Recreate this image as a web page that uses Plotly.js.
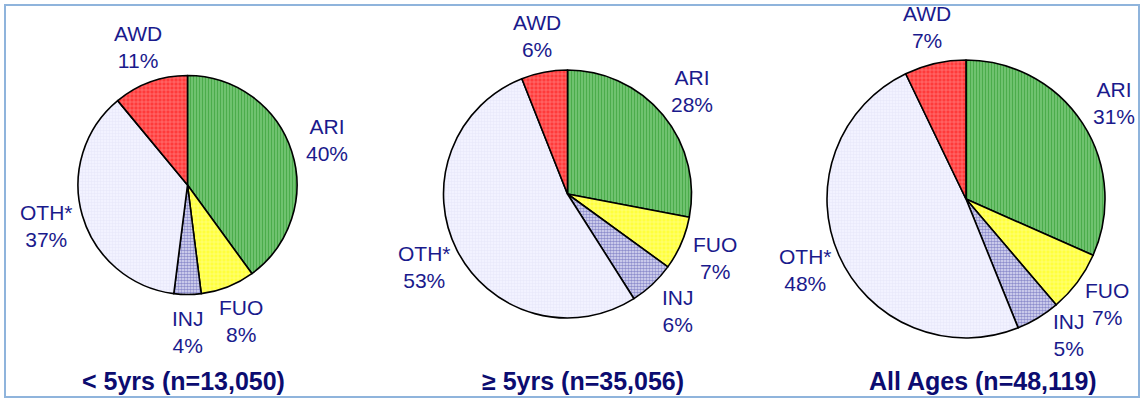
<!DOCTYPE html>
<html>
<head>
<meta charset="utf-8">
<script src="https://cdn.plot.ly/plotly-3.0.1.min.js"></script>
<style>
  html, body { margin: 0; padding: 0; background: #ffffff; }
  #chart { width: 1144px; height: 400px; }
</style>
</head>
<body>
<div id="chart"></div>
<script>
// ---- data ----
const categories = ['ARI', 'FUO', 'INJ', 'OTH*', 'AWD'];
const under5Values = [40, 8, 4, 37, 11];
const over5Values = [28, 7, 6, 53, 6];
const allAgesValues = [31, 7, 5, 48, 7];
const groupTitles = ['< 5yrs (n=13,050)', '\u2265 5yrs (n=35,056)', 'All Ages (n=48,119)'];

// ---- styles ----
const W = 1144, H = 400;
const labelColor = '#1a1a8c';
const titleColor = '#0c0c70';
const fontFamily = '"Liberation Sans", Arial, sans-serif';

const patternStyle = {
  shape:    ['|',       '+',       '.',       '+',       '+'],
  bgcolor:  ['#80cc80', '#ffff3c', '#e2e2f8', '#f2f2ff', '#ff3a3a'],
  fgcolor:  ['#168c16', '#ffffd8', '#3a3aa0', '#d4d4f0', '#ffc8c8'],
  size:     [3,         4,         3,         3,         4],
  solidity: [0.55,      0.3,       0.6,       0.25,      0.3]
};

// pie placement in px: center x, center y (from top), radius
const pieGeom = [
  {cx: 187.5, cy: 185, r: 109.5},
  {cx: 567.5, cy: 194, r: 124},
  {cx: 966,   cy: 199, r: 139}
];
const labelGap = 37;
const maxLabelY = 335;   // keep data labels above the group titles
const titleCenters = [183, 583, 983];

function domainFor(g) {
  const yb = H - g.cy;
  return {
    x: [(g.cx - g.r) / W, (g.cx + g.r) / W],
    y: [(yb - g.r) / H, (yb + g.r) / H]
  };
}

const seriesValues = [under5Values, over5Values, allAgesValues];
const traces = seriesValues.map((vals, i) => ({
  type: 'pie',
  labels: categories,
  values: vals,
  sort: false,
  direction: 'clockwise',
  rotation: 0,
  domain: domainFor(pieGeom[i]),
  textinfo: 'none',
  automargin: false,
  hoverinfo: 'none',
  showlegend: false,
  marker: {
    colors: patternStyle.bgcolor,
    line: {color: '#000000', width: 1.6},
    pattern: {
      shape: patternStyle.shape,
      bgcolor: patternStyle.bgcolor,
      fgcolor: patternStyle.fgcolor,
      size: patternStyle.size,
      solidity: patternStyle.solidity,
      fillmode: 'overlay'
    }
  }
}));

// data labels placed around each pie at the slice mid-angle (derived from the values)
const annotations = [];
seriesValues.forEach((vals, i) => {
  const g = pieGeom[i];
  const total = vals.reduce((a, b) => a + b, 0);
  let cum = 0;
  vals.forEach((v, k) => {
    const mid = (cum + v / 2) / total * 2 * Math.PI;
    cum += v;
    const d = g.r + labelGap;
    let px = g.cx + d * Math.sin(mid);
    let py = g.cy - d * Math.cos(mid);
    if (py > maxLabelY) { px += (py - maxLabelY) * 0.8; py = maxLabelY; }
    annotations.push({
      text: categories[k] + '<br>' + v + '%',
      xref: 'paper', yref: 'paper',
      x: px / W, y: (H - py) / H,
      xanchor: 'center', yanchor: 'middle',
      showarrow: false,
      font: {family: fontFamily, size: 21, color: labelColor}
    });
  });
});

groupTitles.forEach((t, i) => annotations.push({
  text: '<b>' + t + '</b>',
  xref: 'paper', yref: 'paper',
  x: titleCenters[i] / W, y: (H - 381) / H,
  xanchor: 'center', yanchor: 'middle',
  showarrow: false,
  font: {family: fontFamily, size: 25, color: titleColor}
}));

const layout = {
  width: W, height: H,
  margin: {l: 0, r: 0, t: 0, b: 0},
  paper_bgcolor: '#ffffff',
  plot_bgcolor: '#ffffff',
  annotations: annotations,
  shapes: [{
    type: 'rect', xref: 'paper', yref: 'paper',
    x0: 5 / W, x1: 1139 / W, y0: (H - 397) / H, y1: (H - 5) / H,
    line: {color: '#8fb4dc', width: 2},
    fillcolor: 'rgba(0,0,0,0)'
  }]
};

Plotly.newPlot('chart', traces, layout, {displayModeBar: false, staticPlot: true});
</script>
</body>
</html>
